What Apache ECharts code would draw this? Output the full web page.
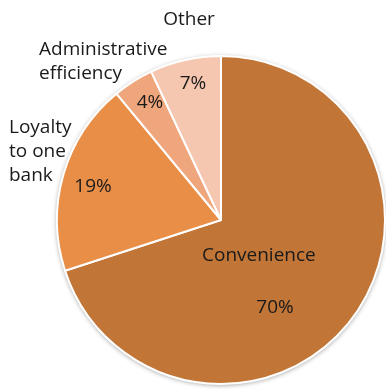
<!DOCTYPE html>
<html>
<head>
<meta charset="utf-8">
<script src="https://cdn.jsdelivr.net/npm/echarts@6/dist/echarts.min.js"></script>
<style>
  html, body { margin: 0; padding: 0; background: #fff; }
  #chart { width: 386px; height: 389px; }
</style>
</head>
<body>
<div id="chart"></div>
<script>
  // 数据
  const reasons = ['Convenience', 'Loyalty to one bank', 'Administrative efficiency', 'Other'];
  const shares = [70, 19, 4, 7];
  const colors = ['#C17537', '#E88E47', '#F0A67C', '#F6C7B0'];

  const myChart = echarts.init(document.getElementById('chart'));
  const font = '"Open Sans", sans-serif';
  const fs = 19;

  // 文字位置（手动摆放）
  const nameLabels = [
    { x: 202, y: 256, lines: ['Convenience'], align: 'left' },
    { x: 9, y: 128, lines: ['Loyalty', 'to one', 'bank'], align: 'left' },
    { x: 39, y: 50, lines: ['Administrative', 'efficiency'], align: 'left' },
    { x: 189, y: 20, lines: ['Other'], align: 'center' }
  ];
  const pctPos = [[275, 308], [93, 187], [150, 103], [193, 84]];

  const graphic = [];
  nameLabels.forEach(l => {
    l.lines.forEach((t, j) => {
      graphic.push({
        type: 'text', x: l.x, y: l.y + j * 24, z: 100,
        style: { text: t, font: fs + 'px ' + font, fill: '#1a1a1a', align: l.align, verticalAlign: 'middle' }
      });
    });
  });
  shares.forEach((v, i) => {
    graphic.push({
      type: 'text', x: pctPos[i][0], y: pctPos[i][1], z: 100,
      style: { text: v + '%', font: fs + 'px ' + font, fill: '#1a1a1a', align: 'center', verticalAlign: 'middle' }
    });
  });

  const options = {
    animation: false,
    graphic: graphic,
    series: [
      {
        // 阴影底
        type: 'pie',
        silent: true,
        center: [221, 220],
        radius: 164,
        label: { show: false },
        data: [{ value: 1, itemStyle: { color: '#fff', shadowBlur: 5, shadowColor: 'rgba(0,0,0,0.45)', shadowOffsetY: 1 } }]
      },
      {
        type: 'pie',
        center: [221, 220],
        radius: 164,
        startAngle: 90,
        clockwise: true,
        label: { show: false },
        labelLine: { show: false },
        itemStyle: { borderColor: '#fff', borderWidth: 2 },
        data: reasons.map((name, i) => ({ name: name, value: shares[i], itemStyle: { color: colors[i] } }))
      }
    ]
  };
  myChart.setOption(options);
</script>
</body>
</html>
